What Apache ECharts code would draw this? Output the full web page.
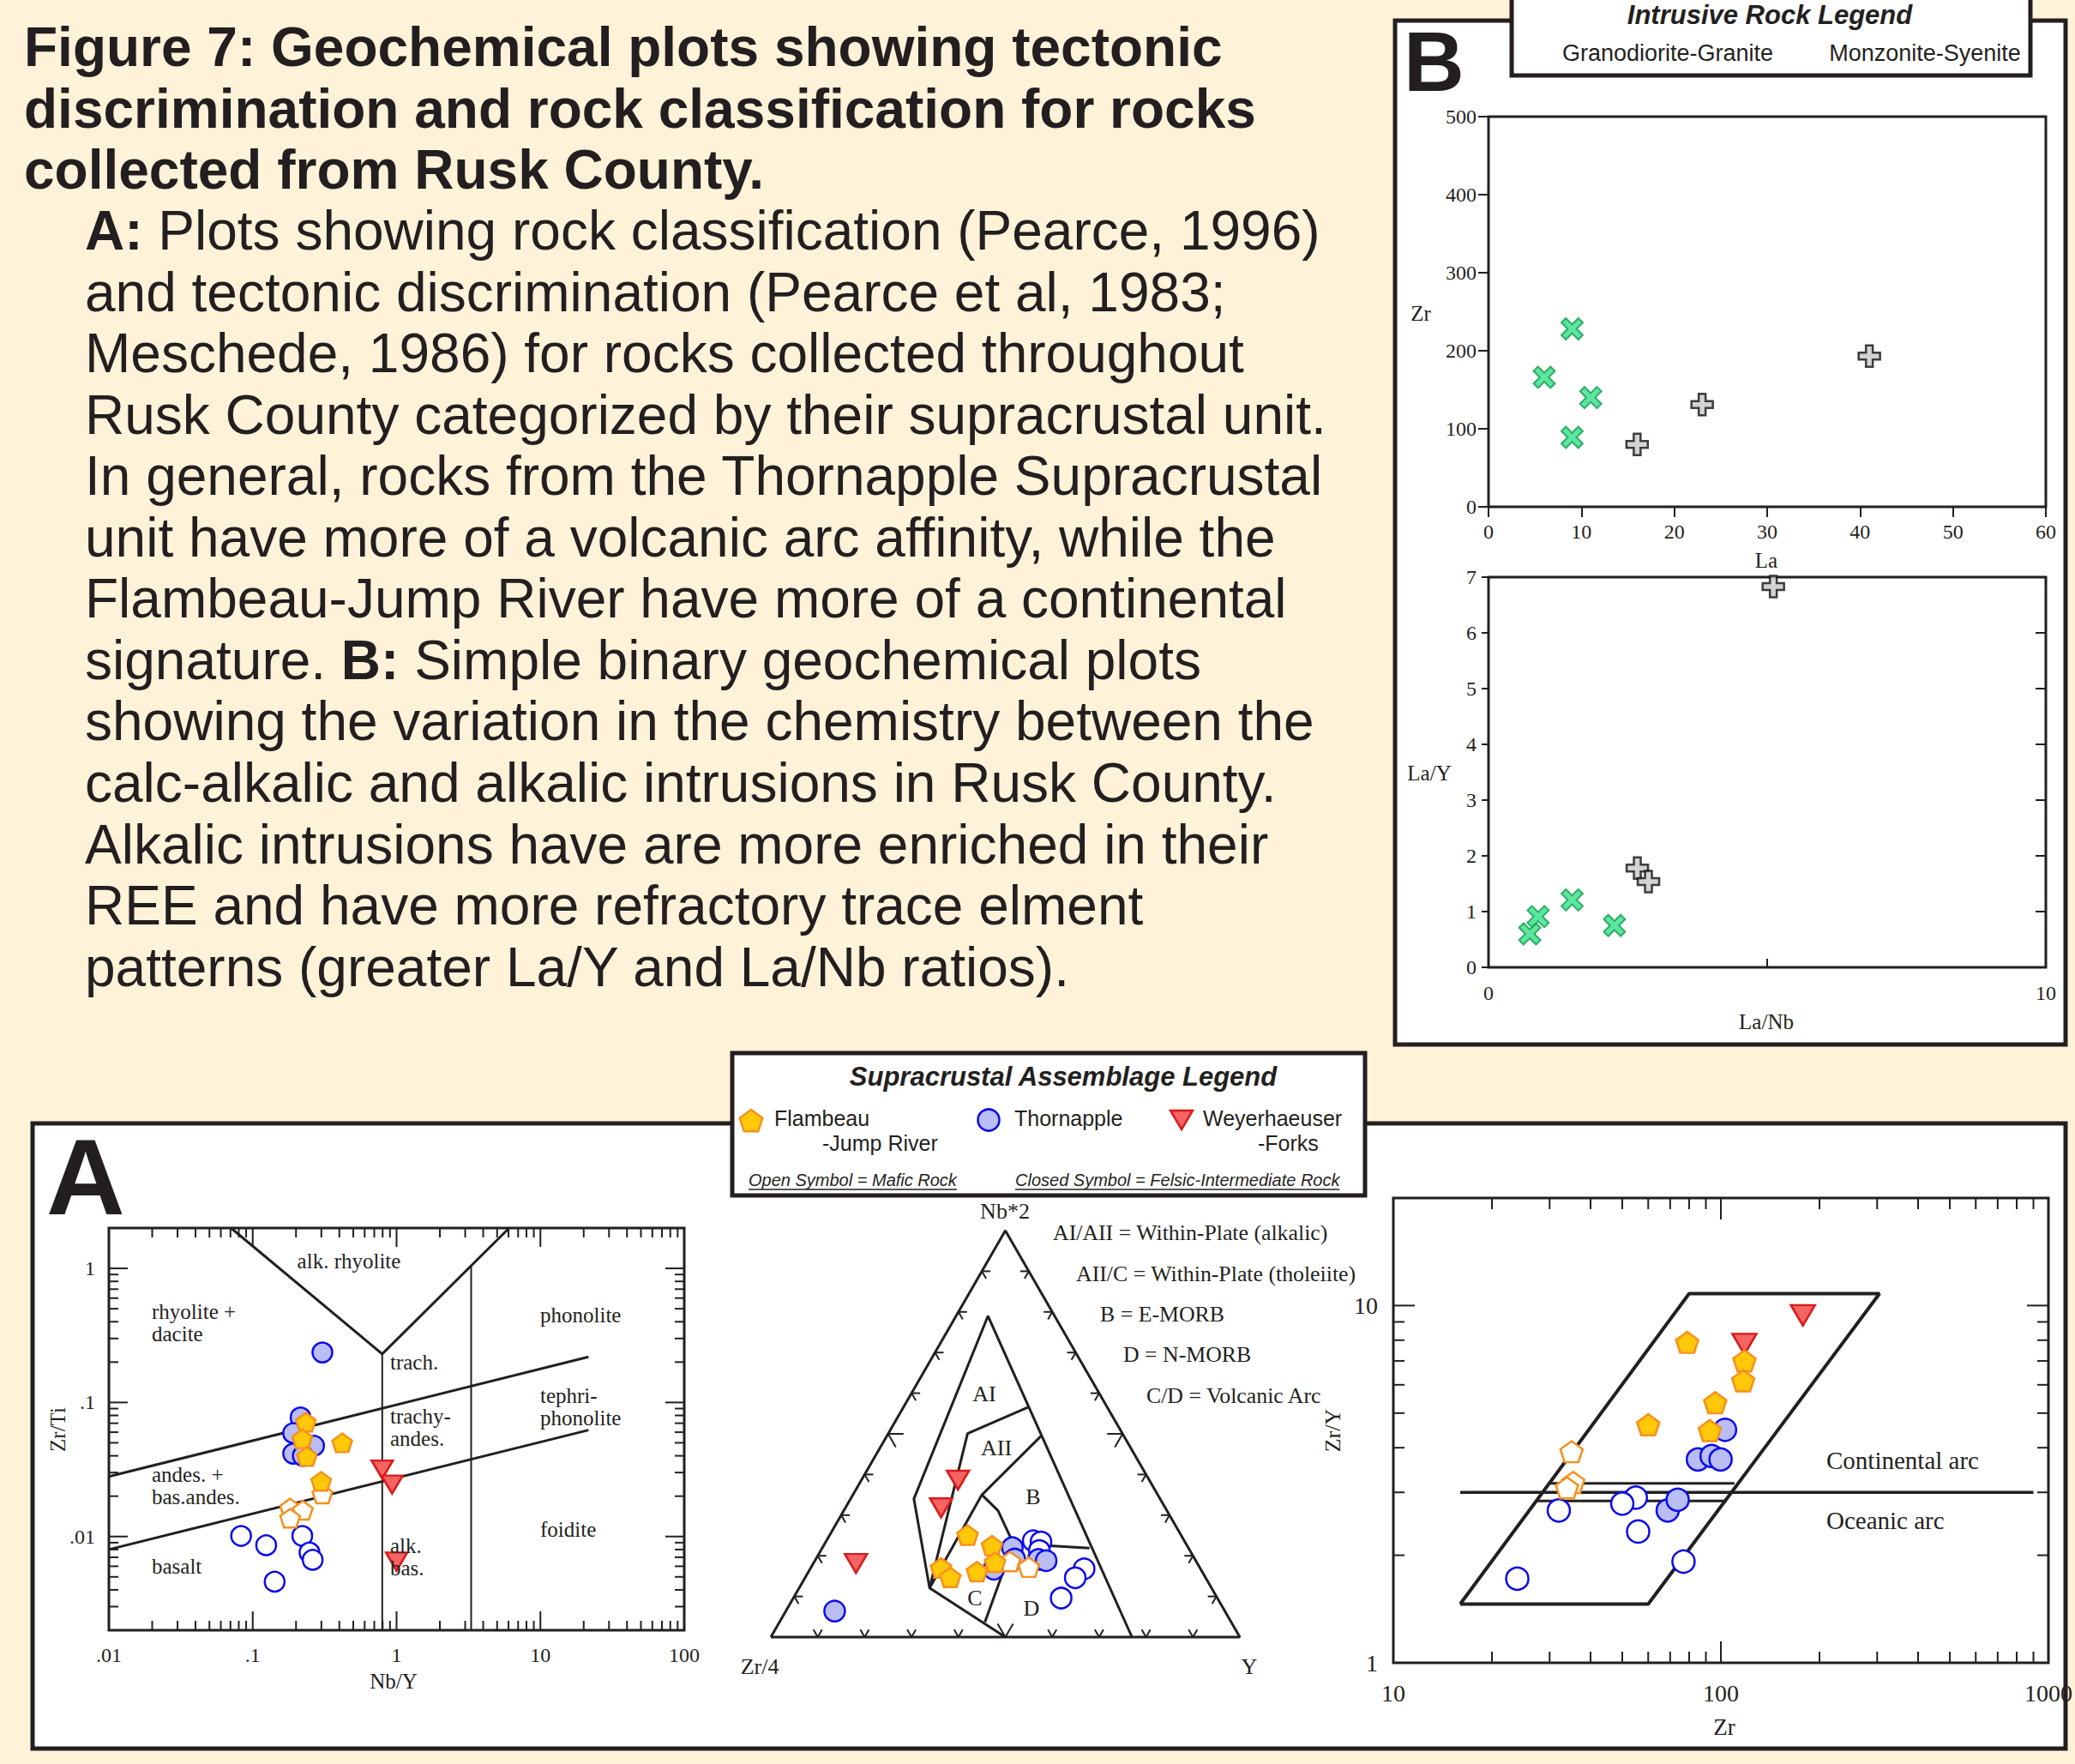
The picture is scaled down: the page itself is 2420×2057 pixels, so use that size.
<!DOCTYPE html>
<html><head><meta charset="utf-8">
<script src="https://cdn.jsdelivr.net/npm/echarts@6/dist/echarts.min.js"></script>
<style>html,body{margin:0;padding:0;background:#fef2d8;} #c{width:2420px;height:2057px;}</style>
</head><body><div id="c"></div>
<script>
// ================= DATA =================
// Panel A1 : Zr/Ti vs Nb/Y (Pearce 1996) — [Nb/Y, Zr/Ti]
const a1ThornappleMafic  = [[0.083,0.0101],[0.124,0.0086],[0.221,0.0101],[0.248,0.0076],[0.261,0.0067],[0.142,0.0046]];
const a1ThornappleFelsic = [[0.305,0.236],[0.215,0.0773],[0.191,0.059],[0.267,0.0475],[0.191,0.0415],[0.223,0.040]];
const a1Weyerhaeuser     = [[0.795,0.0316],[0.931,0.0244],[1.0,0.0065]];
const a1FlambeauMafic    = [[0.305,0.0208],[0.182,0.0163],[0.223,0.0157],[0.182,0.0137]];
const a1FlambeauFelsic   = [[0.234,0.0713],[0.221,0.0536],[0.419,0.050],[0.238,0.0395],[0.299,0.0258]];
const a1FieldLines = [
  [[0.01,0.028],[21.6,0.219]],
  [[0.01,0.008],[21.6,0.0622]],
  [[0.0706,2],[0.795,0.23],[6.07,2]],
  [[0.795,0.23],[0.795,0.002]],
  [[3.3,1.03],[3.3,0.002]]
];
const a1XTicks = [0.01,0.1,1,10,100];
const a1XTickLabels = ['.01','.1','1','10','100'];
const a1YTicks = [0.01,0.1,1];
const a1YTickLabels = ['.01','.1','1'];
const a1XRange = [0.01,100];
const a1YRange = [0.002,2];
const a1XDecades = [0.01,0.1,1,10];
const a1YDecades = [0.001,0.01,0.1,1];

// Panel A2 : Meschede (1986) ternary — [Zr/4, Nb*2, Y] in %
const ternThornappleMafic  = [[32.2,23.7,44.1],[30.7,23.4,45.9],[32.1,21.3,46.6],[24.8,16.8,58.4],[27.8,14.6,57.6],[33.3,9.6,57.1]];
const ternThornappleFelsic = [[37.5,22.0,40.5],[38.4,19.2,42.4],[44.1,16.7,39.2],[33.4,19.1,47.5],[31.9,18.8,49.3],[83.2,6.4,10.4]];
const ternWeyerhaeuser     = [[40.8,38.6,20.6],[47.8,31.8,20.4],[72.8,18.1,9.1]];
const ternFlambeauMafic    = [[39.7,18.6,41.7],[36.4,17.2,46.4]];
const ternFlambeauFelsic   = [[45.5,25.1,29.4],[41.6,22.5,35.9],[55.2,17.0,27.8],[54.4,14.7,30.9],[48.0,16.1,35.9],[43.0,18.4,38.6]];
const ternFrame = [[100,0,0],[0,100,0],[0,0,100],[100,0,0]];
const ternFieldLines = [
  [[23.0,0,77.0],[14.2,79.0,6.8],[52.5,34.0,13.5],[60.1,12.1,27.8],[50,0,50]],
  [[16.7,56.6,26.7],[33.0,50.1,16.9],[60.1,12.1,27.8]],
  [[17.6,49.5,32.9],[37.5,35.0,27.5],[60.1,12.1,27.8]],
  [[37.5,35.0,27.5],[36.0,31.1,32.9],[36.8,23.0,40.2],[21.1,21.9,57.0]],
  [[36.8,23.0,40.2],[52.5,3.7,43.8]]
];
const ternTickFractions = [0.1,0.2,0.3,0.4,0.5,0.6,0.7,0.8,0.9];

// Panel A3 : Zr/Y vs Zr (Pearce 1983) — [Zr, Zr/Y]
const a3ThornappleMafic  = [[55.0,2.90],[50.0,2.79],[32.0,2.67],[55.9,2.33],[76.9,1.92],[23.9,1.72]];
const a3ThornappleFelsic = [[103,4.49],[85.1,3.71],[93.7,3.79],[99.8,3.71],[68.8,2.67],[73.8,2.86]];
const a3Weyerhaeuser     = [[178,9.39],[118,7.8]];
const a3FlambeauMafic    = [[35.0,3.90],[35.4,3.20],[33.9,3.09]];
const a3FlambeauFelsic   = [[78.9,7.89],[118,7.0],[117,6.16],[96.1,5.35],[60.0,4.64],[92.5,4.47]];
const a3FieldLines = [
  [[16,1.46],[60,1.46],[305,10.8],[80,10.8],[16,1.46]],
  [[16,3.0],[900,3.0]],
  [[29.8,3.18],[110,3.18]],
  [[27.5,2.84],[104,2.84]]
];
const a3XTicks = [10,100,1000];
const a3XTickLabels = ['10','100','1000'];
const a3YTicks = [1,10];
const a3YTickLabels = ['1','10'];
const a3XRange = [10,1000];
const a3YRange = [1,20];
const a3XDecades = [10,100];
const a3YDecades = [1,10];
const minorMultipliers = [2,3,4,5,6,7,8,9];

// Panel B
const b1Granite = [[9,228],[6,166],[11,140],[9,89]];
const b1Syenite = [[16,80],[23,131],[41,193]];
const b2Granite = [[0.74,0.60],[0.89,0.91],[1.50,1.21],[2.26,0.75]];
const b2Syenite = [[2.67,1.78],[2.87,1.54],[5.11,6.83]];
const b2XTicks = [0,5,10];
const b2XTickLabels = ['0','','10'];

// Text
const titleLines = ['Figure 7: Geochemical plots showing tectonic','discrimination and rock classification for rocks','collected from Rusk County.'];
const bodyLines = [
  [['A:',1],[' Plots showing rock classification (Pearce, 1996)',0]],
  [['and tectonic discrimination (Pearce et al, 1983;',0]],
  [['Meschede, 1986) for rocks collected throughout',0]],
  [['Rusk County categorized by their supracrustal unit.',0]],
  [['In general, rocks from the Thornapple Supracrustal',0]],
  [['unit have more of a volcanic arc affinity, while the',0]],
  [['Flambeau-Jump River have more of a continental',0]],
  [['signature. ',0],['B:',1],[' Simple binary geochemical plots',0]],
  [['showing the variation in the chemistry between the',0]],
  [['calc-alkalic and alkalic intrusions in Rusk County.',0]],
  [['Alkalic intrusions have are more enriched in their',0]],
  [['REE and have more refractory trace elment',0]],
  [['patterns (greater La/Y and La/Nb ratios).',0]]
];

// ================= STYLE / LAYOUT =================
const SANS = '"Liberation Sans", Arial, Helvetica, sans-serif';
const SERIF = '"Liberation Serif", "Times New Roman", Times, serif';
const INK = '#231f20';
const BG = '#fef2d8';
const PENT = 'path://M50,0L97.55,34.55L79.39,90.45L20.61,90.45L2.45,34.55Z';
const TRI_DOWN = 'path://M0,0L100,0L50,86.6Z';
const XMARK = 'path://M0,2.1L2.1,0L5,2.9L7.9,0L10,2.1L7.1,5L10,7.9L7.9,10L5,7.1L2.1,10L0,7.9L2.9,5Z';
const PLUS = 'path://M3.4,0L6.6,0L6.6,3.4L10,3.4L10,6.6L6.6,6.6L6.6,10L3.4,10L3.4,6.6L0,6.6L0,3.4L3.4,3.4Z';
const GROUP = {
  thornappleMafic:  {symbol:'circle', fill:'#ffffff', stroke:'#0b0be8'},
  thornappleFelsic: {symbol:'circle', fill:'#b9bdf4', stroke:'#0b0be8'},
  weyerhaeuser:     {symbol:TRI_DOWN, fill:'#f56464', stroke:'#d91a1a'},
  flambeauMafic:    {symbol:PENT, fill:'#ffffff', stroke:'#f7901e'},
  flambeauFelsic:   {symbol:PENT, fill:'#ffc80a', stroke:'#f7901e'}
};
function symSize(sym, s){ if(sym===PENT) return [s, s*0.95]; if(sym===TRI_DOWN) return [s*1.08, s*0.92]; return [s, s]; }
function scatter(key, data, gi, size){
  const st = GROUP[key];
  return {type:'scatter', name:key, xAxisIndex:gi, yAxisIndex:gi, data:data, symbol:st.symbol,
    symbolSize:symSize(st.symbol,size), itemStyle:{color:st.fill, borderColor:st.stroke, borderWidth:2.5, opacity:1},
    z:5, silent:true, animation:false, clip:false};
}
function lineSeries(data, gi, width){
  return {type:'line', xAxisIndex:gi, yAxisIndex:gi, data:data, symbol:'none', showSymbol:false,
    lineStyle:{color:INK, width:width}, silent:true, animation:false, z:2, clip:false};
}
const H = Math.sqrt(3)/2;
function tern(p){ const s=p[0]+p[1]+p[2]; return [(p[2]+p[1]/2)/s, p[1]/s*H]; }
function logLabel(ticks, labels){
  return function(v){ for(let i=0;i<ticks.length;i++){ if(Math.abs(Math.log10(v)-Math.log10(ticks[i]))<1e-6) return labels[i]; } return ''; };
}
function minorTicks(decades, range){
  const out=[]; decades.forEach(d=>minorMultipliers.forEach(m=>{const v=+(d*m).toPrecision(6); if(v>range[0]*1.0001 && v<range[1]*0.9999) out.push(v);})); return out;
}
function logTickSeries(gi, xr, yr, xMaj, xMin, yMaj, yMin, majLen, minLen){
  const data=[];
  xMaj.forEach(v=>data.push([v, yr[0], 1, 0]));
  xMin.forEach(v=>data.push([v, yr[0], 0, 0]));
  yMaj.forEach(v=>data.push([xr[0], v, 1, 1]));
  yMin.forEach(v=>data.push([xr[0], v, 0, 1]));
  return {type:'custom', xAxisIndex:gi, yAxisIndex:gi, data:data, silent:true, animation:false, z:3, clip:false,
    renderItem:function(params, api){
      const cs=params.coordSys; const L = api.value(2) ? majLen : minLen;
      const p = api.coord([api.value(0), api.value(1)]);
      const ls = {stroke:INK, lineWidth:2};
      if (api.value(3)===0){
        const x=p[0];
        return {type:'group', children:[
          {type:'line', shape:{x1:x,y1:cs.y+cs.height,x2:x,y2:cs.y+cs.height-L}, style:ls},
          {type:'line', shape:{x1:x,y1:cs.y,x2:x,y2:cs.y+L}, style:ls}]};
      }
      const y=p[1];
      return {type:'group', children:[
        {type:'line', shape:{x1:cs.x,y1:y,x2:cs.x+L,y2:y}, style:ls},
        {type:'line', shape:{x1:cs.x+cs.width,y1:y,x2:cs.x+cs.width-L,y2:y}, style:ls}]};
    }};
}
const ternTickSeries = {type:'custom', xAxisIndex:1, yAxisIndex:1, data:ternTickFractions.map(f=>[f,0]),
  silent:true, animation:false, z:3, clip:false,
  renderItem:function(params, api){
    const f=api.value(0); const L = Math.abs(f-0.5)<1e-6 ? 18 : 10;
    const c=0.5, s=H;
    const pL=api.coord([f*0.5, f*H]), pR=api.coord([1-f*0.5, f*H]), pB=api.coord([f,0]);
    const ls={stroke:INK, lineWidth:2};
    const seg=(p,dx,dy)=>({type:'line', shape:{x1:p[0],y1:p[1],x2:p[0]+dx,y2:p[1]+dy}, style:ls});
    return {type:'group', children:[
      seg(pL, L, 0), seg(pL, c*L, s*L),
      seg(pR, -L, 0), seg(pR, -c*L, s*L),
      seg(pB, c*L, -s*L), seg(pB, -c*L, -s*L)]};
  }};

const labelStyle = (size, margin, fmt) => { const o={show:true, fontFamily:SERIF, fontSize:size, color:INK, margin:margin}; if(fmt) o.formatter=fmt; return o; };
const noSplit = {show:false};
const grids = [
  {left:127, top:1432, width:671, height:469},
  {left:899, top:1435, width:547, height:474},
  {left:1625, top:1397, width:774, height:542},
  {left:1736, top:136, width:650, height:455},
  {left:1736, top:673, width:650, height:455}
].map((g,i)=>Object.assign({show:i!==1, borderColor:INK, borderWidth:3, backgroundColor:'transparent', containLabel:false}, g));

const tickLS = {color:INK, width:2};
const xAxes = [
  {gridIndex:0, type:'log', logBase:10, min:a1XRange[0], max:a1XRange[1], axisLine:{show:false}, axisTick:{show:false}, splitLine:noSplit, minorTick:{show:false}, axisLabel:labelStyle(24,17,logLabel(a1XTicks,a1XTickLabels))},
  {gridIndex:1, type:'value', min:0, max:1, show:false},
  {gridIndex:2, type:'log', logBase:10, min:a3XRange[0], max:a3XRange[1], axisLine:{show:false}, axisTick:{show:false}, splitLine:noSplit, axisLabel:labelStyle(28,21,logLabel(a3XTicks,a3XTickLabels))},
  {gridIndex:3, type:'value', min:0, max:60, interval:10, axisLine:{show:false}, axisTick:{show:true, inside:false, length:8, lineStyle:tickLS}, splitLine:noSplit, axisLabel:labelStyle(24,17)},
  {gridIndex:4, type:'value', min:0, max:10, interval:5, axisLine:{show:false}, axisTick:{show:true, inside:true, length:10, lineStyle:tickLS}, splitLine:noSplit,
    axisLabel:labelStyle(24,18,function(v){const i=b2XTicks.indexOf(v); return i>=0?b2XTickLabels[i]:'';})},
  {gridIndex:3, type:'value', position:'top', min:0, max:60, interval:10, axisLine:{show:false}, axisTick:{show:true, inside:true, length:12, lineStyle:tickLS}, splitLine:noSplit, axisLabel:{show:false}}
];
const yAxes = [
  {gridIndex:0, type:'log', logBase:10, min:a1YRange[0], max:a1YRange[1], axisLine:{show:false}, axisTick:{show:false}, splitLine:noSplit, axisLabel:labelStyle(24,16,logLabel(a1YTicks,a1YTickLabels))},
  {gridIndex:1, type:'value', min:0, max:H, show:false},
  {gridIndex:2, type:'log', logBase:10, min:a3YRange[0], max:a3YRange[1], axisLine:{show:false}, axisTick:{show:false}, splitLine:noSplit, axisLabel:labelStyle(28,18,logLabel(a3YTicks,a3YTickLabels))},
  {gridIndex:3, type:'value', min:0, max:500, interval:100, axisLine:{show:false}, axisTick:{show:true, inside:false, length:8, lineStyle:tickLS}, splitLine:noSplit, axisLabel:labelStyle(24,14)},
  {gridIndex:4, type:'value', min:0, max:7, interval:1, axisLine:{show:false}, axisTick:{show:true, inside:false, length:8, lineStyle:tickLS}, splitLine:noSplit, axisLabel:labelStyle(24,14)},
  {gridIndex:3, type:'value', position:'right', min:0, max:500, interval:100, axisLine:{show:false}, axisTick:{show:true, inside:true, length:12, lineStyle:tickLS}, splitLine:noSplit, axisLabel:{show:false}},
  {gridIndex:4, type:'value', position:'right', min:0, max:7, interval:1, axisLine:{show:false}, axisTick:{show:true, inside:true, length:12, lineStyle:tickLS}, splitLine:noSplit, axisLabel:{show:false}}
];

// ================= SERIES =================
const series = [];
const a1Widths = [3,3,3,2,2];
a1FieldLines.forEach((l,i)=>series.push(lineSeries(l,0,a1Widths[i])));
series.push(logTickSeries(0, a1XRange, a1YRange, a1XTicks, minorTicks(a1XDecades,a1XRange), a1YTicks, minorTicks(a1YDecades,a1YRange), 22, 11));
series.push(scatter('thornappleMafic', a1ThornappleMafic, 0, 23));
series.push(scatter('thornappleFelsic', a1ThornappleFelsic, 0, 23));
series.push(scatter('weyerhaeuser', a1Weyerhaeuser, 0, 23));
series.push(scatter('flambeauMafic', a1FlambeauMafic, 0, 23));
series.push(scatter('flambeauFelsic', a1FlambeauFelsic, 0, 23));

series.push(lineSeries(ternFrame.map(tern),1,3));
ternFieldLines.forEach(l=>series.push(lineSeries(l.map(tern),1,3)));
series.push(ternTickSeries);
series.push(scatter('thornappleMafic', ternThornappleMafic.map(tern), 1, 24));
series.push(scatter('thornappleFelsic', ternThornappleFelsic.map(tern), 1, 24));
series.push(scatter('weyerhaeuser', ternWeyerhaeuser.map(tern), 1, 24));
series.push(scatter('flambeauMafic', ternFlambeauMafic.map(tern), 1, 24));
series.push(scatter('flambeauFelsic', ternFlambeauFelsic.map(tern), 1, 24));

const a3Widths = [4,3.5,3,3];
a3FieldLines.forEach((l,i)=>series.push(lineSeries(l,2,a3Widths[i])));
series.push(logTickSeries(2, a3XRange, a3YRange, a3XTicks, minorTicks(a3XDecades,a3XRange), a3YTicks, minorTicks(a3YDecades,a3YRange), 25, 13));
series.push(scatter('thornappleMafic', a3ThornappleMafic, 2, 26));
series.push(scatter('thornappleFelsic', a3ThornappleFelsic, 2, 26));
series.push(scatter('weyerhaeuser', a3Weyerhaeuser, 2, 26));
series.push(scatter('flambeauMafic', a3FlambeauMafic, 2, 26));
series.push(scatter('flambeauFelsic', a3FlambeauFelsic, 2, 26));

const graniteStyle = {symbol:XMARK, symbolSize:25, itemStyle:{color:'#36de88', borderColor:'#0f9e4e', borderWidth:2}};
const syeniteStyle = {symbol:PLUS, symbolSize:25, itemStyle:{color:'#c8c8c8', borderColor:'#111111', borderWidth:2.5}};
[[b1Granite,3,graniteStyle],[b1Syenite,3,syeniteStyle],[b2Granite,4,graniteStyle],[b2Syenite,4,syeniteStyle]].forEach(a=>{
  series.push(Object.assign({type:'scatter', xAxisIndex:a[1], yAxisIndex:a[1], data:a[0], silent:true, animation:false, z:5, clip:false}, a[2]));
});

// ================= GRAPHICS (frames, text) =================
function T(text, x, y, font, o){
  o = o || {};
  const al=o.align||'left', va=o.va||'middle';
  return {type:'text', x:x, y:y, rotation:o.rot||0, z:o.z||30, silent:true,
    style:{text:text, font:font, fill:o.fill||INK, align:al, verticalAlign:va, textAlign:al, textVerticalAlign:va}};
}
function RT(segs, x, y, size){
  const text = segs.map(s=>'{'+(s[1]?'b':'n')+'|'+s[0]+'}').join('');
  return {type:'text', x:x, y:y, z:30, silent:true, style:{text:text, font:size+'px '+SANS, fill:INK,
    align:'left', verticalAlign:'middle', textAlign:'left', textVerticalAlign:'middle',
    rich:{b:{font:'bold '+size+'px '+SANS, fill:INK}, n:{font:size+'px '+SANS, fill:INK}}}};
}
const mctx = document.createElement('canvas').getContext('2d');
function textW(text, font){ mctx.font = font; return mctx.measureText(text).width; }

const G = [];
G.push({type:'rect', z:-10, silent:true, shape:{x:38,y:1310,width:2371,height:729}, style:{fill:'#ffffff', stroke:INK, lineWidth:5}});
G.push({type:'rect', z:-10, silent:true, shape:{x:1627,y:24,width:782,height:1194}, style:{fill:'#ffffff', stroke:INK, lineWidth:5}});

titleLines.forEach((t,i)=>G.push(T(t, 28, 55+i*71.5, 'bold 64px '+SANS)));
bodyLines.forEach((segs,i)=>G.push(RT(segs, 99, 269+i*71.55, 64)));

G.push(T('A', 54, 1372, 'bold 127px '+SANS));
G.push(T('B', 1637, 72, 'bold 98px '+SANS));

// Intrusive legend
G.push({type:'rect', z:20, silent:true, shape:{x:1763,y:-20,width:605,height:108}, style:{fill:'#ffffff', stroke:INK, lineWidth:5}});
G.push(T('Intrusive Rock Legend', 2064, 17, 'italic bold 31px '+SANS, {align:'center', z:21}));
G.push(T('Granodiorite-Granite', 1945, 62, '27px '+SANS, {align:'center', z:21}));
G.push(T('Monzonite-Syenite', 2245, 62, '27px '+SANS, {align:'center', z:21}));

// Supracrustal legend
G.push({type:'rect', z:20, silent:true, shape:{x:854,y:1228,width:738,height:166}, style:{fill:'#ffffff', stroke:INK, lineWidth:5}});
G.push(T('Supracrustal Assemblage Legend', 1240, 1255, 'italic bold 31px '+SANS, {align:'center', z:21}));
function pentPts(cx,cy,r){ const pts=[]; for(let k=0;k<5;k++){ const a=-Math.PI/2+k*2*Math.PI/5; pts.push([cx+r*Math.cos(a), cy+r*Math.sin(a)]);} return pts; }
G.push({type:'polygon', z:21, silent:true, shape:{points:pentPts(876,1308,14)}, style:{fill:GROUP.flambeauFelsic.fill, stroke:GROUP.flambeauFelsic.stroke, lineWidth:2.5}});
G.push({type:'circle', z:21, silent:true, shape:{cx:1153,cy:1306,r:12.5}, style:{fill:GROUP.thornappleFelsic.fill, stroke:GROUP.thornappleFelsic.stroke, lineWidth:2.5}});
G.push({type:'polygon', z:21, silent:true, shape:{points:[[1365,1295],[1391,1295],[1378,1317]]}, style:{fill:GROUP.weyerhaeuser.fill, stroke:GROUP.weyerhaeuser.stroke, lineWidth:2.5}});
const legF = '25px '+SANS;
G.push(T('Flambeau', 903, 1304, legF, {z:21}));
G.push(T('-Jump River', 959, 1333, legF, {z:21}));
G.push(T('Thornapple', 1183, 1304, legF, {z:21}));
G.push(T('Weyerhaeuser', 1403, 1304, legF, {z:21}));
G.push(T('-Forks', 1467, 1333, legF, {z:21}));
const noteF = 'italic 20px '+SANS;
[['Open Symbol = Mafic Rock',873],['Closed Symbol = Felsic-Intermediate Rock',1184]].forEach(n=>{
  G.push(T(n[0], n[1], 1376, noteF, {z:21}));
  const w = textW(n[0], noteF);
  G.push({type:'line', z:21, silent:true, shape:{x1:n[1], y1:1387, x2:n[1]+w, y2:1387}, style:{stroke:INK, lineWidth:1.5}});
});

// A1 annotations
const f25 = '25px '+SERIF;
[['rhyolite +',177,1529],['dacite',177,1555],['trach.',455,1588],['phonolite',630,1533],
 ['trachy-',455,1651],['andes.',455,1677],['tephri-',630,1627],['phonolite',630,1653],
 ['andes. +',177,1719],['bas.andes.',177,1745],['foidite',630,1783],['alk.',455,1802],['bas.',455,1828],['basalt',177,1826]
].forEach(a=>G.push(T(a[0],a[1],a[2],f25)));
G.push(T('alk. rhyolite', 407, 1470, f25, {align:'center'}));
G.push(T('Nb/Y', 459, 1960, f25, {align:'center'}));
G.push(T('Zr/Ti', 67, 1667, f25, {align:'center', rot:Math.PI/2}));

// A2 annotations
const f26 = '26px '+SERIF;
G.push(T('Nb*2', 1172, 1412, f26, {align:'center'}));
G.push(T('Zr/4', 886, 1943, f26, {align:'center'}));
G.push(T('Y', 1457, 1943, f26, {align:'center'}));
[['AI/AII = Within-Plate (alkalic)',1228,1437],['AII/C = Within-Plate (tholeiite)',1255,1485],['B = E-MORB',1283,1532],['D = N-MORB',1310,1579],['C/D = Volcanic Arc',1337,1627]]
  .forEach(a=>G.push(T(a[0],a[1],a[2],'25.8px '+SERIF)));
[['AI',1148,1625],['AII',1162,1688],['B',1205,1745],['C',1137,1863],['D',1203,1875]]
  .forEach(a=>G.push(T(a[0],a[1],a[2],f26,{align:'center'})));

// A3 annotations
G.push(T('Continental arc', 2130, 1703, '29px '+SERIF));
G.push(T('Oceanic arc', 2130, 1773, '29px '+SERIF));
G.push(T('Zr', 2011, 2014, '27px '+SERIF, {align:'center'}));
G.push(T('Zr/Y', 1554, 1668, f26, {align:'center', rot:Math.PI/2}));

// B annotations
const f24 = '25px '+SERIF;
G.push(T('Zr', 1657, 365, f24, {align:'center'}));
G.push(T('La', 2060, 653, f24, {align:'center'}));
G.push(T('La/Y', 1667, 901, f24, {align:'center'}));
G.push(T('La/Nb', 2060, 1191, f24, {align:'center'}));

const chart = echarts.init(document.getElementById('c'), null, {renderer:'svg', width:2420, height:2057});
chart.setOption({
  backgroundColor: BG,
  animation: false,
  grid: grids,
  xAxis: xAxes,
  yAxis: yAxes,
  series: series,
  graphic: {elements: G}
});
</script>
</body></html>
